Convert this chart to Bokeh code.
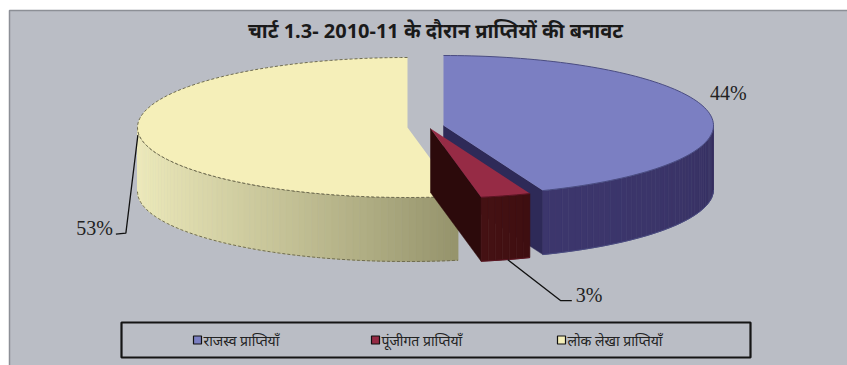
import numpy as np
from bokeh.plotting import figure
from bokeh.models import Range1d
from bokeh.embed import file_html
from bokeh.resources import INLINE
from bokeh.core.properties import value

# ---------------- data ----------------
title = "चार्ट 1.3- 2010-11 के दौरान प्राप्तियों की बनावट"
categories = ["राजस्व प्राप्तियाँ", "पूंजीगत प्राप्तियाँ", "लोक लेखा प्राप्तियाँ"]
shares = [44, 3, 53]
pct_labels = ["44%", "3%", "53%"]

# ---------------- styles ----------------
top_colors = ["#7b7fc2", "#962b45", "#f5efb9"]
side_from = [(60, 54, 108), (68, 17, 19), (238, 235, 188)]
side_to = [(55, 49, 98), (62, 14, 16), (150, 148, 108)]
radial_colors = ["#2e2a58", "#2c0a0b", "#8f8d68"]
edge_colors = ["#4a4c80", "#5a1522", "#6f6c50"]
legend_colors = ["#7b7fc2", "#962b45", "#f5efb9"]

W, H = 847, 365
BG = "#babdc5"
BASE = (425.0, 127.0)
explode = [(18, -2), (5, 1), (-18, 0)]
RX, RY, DEPTH = 270.0, 70.0, 64.0

p = figure(width=W, height=H, x_range=Range1d(0, W), y_range=Range1d(H, 0),
           output_backend="svg", toolbar_location=None, min_border=0)
p.axis.visible = False
p.grid.visible = False
p.outline_line_color = None
p.background_fill_color = "white"
p.border_fill_color = "white"

# chart area
p.quad(left=9, right=W + 5, top=10, bottom=H + 5, fill_color=BG,
       line_color="#8c8f96", line_width=1.5)


def rim(cx, cy, t):
    r = np.radians(t)
    return cx + RX * np.cos(r), cy - RY * np.sin(r)


def hexc(c):
    return "#%02x%02x%02x" % tuple(int(round(v)) for v in c)


# slice angle ranges (clockwise from 12 o'clock)
ranges = []
start = 90.0
for v in shares:
    end = start - v / 100.0 * 360.0
    ranges.append((end, start))  # lo, hi (CCW)
    start = end

geo = []
for i, (lo, hi) in enumerate(ranges):
    cx, cy = BASE[0] + explode[i][0], BASE[1] + explode[i][1]
    geo.append((cx, cy, lo, hi))

draw_order = [2, 0, 1]
for i in draw_order:
    cx, cy, lo, hi = geo[i]
    n = max(3, int(abs(hi - lo) / 1.5) + 1)
    ts = np.linspace(lo, hi, n)
    rxs, rys = rim(cx, cy, ts)

    # radial faces
    for t, ang in ((lo, lo - 90), (hi, hi + 90)):
        if np.sin(np.radians(ang)) < -1e-6:
            ex, ey = rim(cx, cy, t)
            p.patch([cx, ex, ex, cx], [cy, ey, ey + DEPTH, cy + DEPTH],
                    fill_color=radial_colors[i], line_color=radial_colors[i], line_width=0.5)

    # outer side strips
    vis = [k for k in range(n - 1) if np.sin(np.radians((ts[k] + ts[k + 1]) / 2)) < 0]
    if vis:
        tv = [(ts[k] + ts[k + 1]) / 2 for k in vis]
        tmin, tmax = min(tv), max(tv)
        xs_l, ys_l, cols = [], [], []
        for k in vis:
            tm = (ts[k] + ts[k + 1]) / 2
            f = 0 if tmax == tmin else (tm - tmin) / (tmax - tmin)
            f = f ** 1.6
            c = [side_from[i][j] + (side_to[i][j] - side_from[i][j]) * f for j in range(3)]
            x0, x1 = rxs[k], rxs[k + 1]
            y0, y1 = rys[k], rys[k + 1]
            xs_l.append([x0, x1, x1, x0])
            ys_l.append([y0, y1, y1 + DEPTH, y0 + DEPTH])
            cols.append(hexc(c))
        p.patches(xs_l, ys_l, fill_color=cols, line_color=cols, line_width=0.6)
        # side outline
        fx = [rxs[k] for k in vis] + [rxs[vis[-1] + 1]]
        fy = [rys[k] for k in vis] + [rys[vis[-1] + 1]]
        dash = "3 2" if i == 2 else "solid"
        p.line(fx, [y + DEPTH for y in fy], line_color=edge_colors[i], line_width=1, line_dash=dash)
        p.line(fx, fy, line_color=edge_colors[i], line_width=1, line_dash=dash)

    # top face
    px = [cx] + list(rxs)
    py = [cy] + list(rys)
    p.patch(px, py, fill_color=top_colors[i], line_color=None)
    dash = "3 2" if i == 2 else "solid"
    p.line(list(rxs), list(rys), line_color=edge_colors[i], line_width=1, line_dash=dash)

# ---------------- labels ----------------
lab_font = value("Liberation Serif")
# 44% (blue)
cxb, cyb, lob, hib = geo[0]
p.text(x=[cxb + RX * 1.055], y=[cyb - RY * 0.47], text=[pct_labels[0]],
       text_font=lab_font, text_font_size="20px", text_color="#222222",
       text_align="center", text_baseline="middle")

# 53% (yellow) with leader
cxy, cyy, loy, hiy = geo[2]
ax, ay = rim(cxy, cyy, 183)
lx = [ax, ax - 12, ax - 22]
ly = [ay + 4, ay + 102, ay + 103]
p.line(lx, ly, line_color="#111111", line_width=1.3)
p.text(x=[lx[-1] - 3], y=[ly[-1] - 6], text=[pct_labels[2]],
       text_font=lab_font, text_font_size="20px", text_color="#222222",
       text_align="right", text_baseline="middle")

# 3% (maroon) with leader
cxm, cym, lom, him = geo[1]
mx, my = rim(cxm, cym, (lom + him) / 2)
my += DEPTH
lx = [mx + 2, mx + 55, mx + 66]
ly = [my, my + 41, my + 41]
p.line(lx, ly, line_color="#111111", line_width=1.3)
p.text(x=[lx[-1] + 4], y=[ly[-1] - 6], text=[pct_labels[1]],
       text_font=lab_font, text_font_size="20px", text_color="#222222",
       text_align="left", text_baseline="middle")

# ---------------- title ----------------
p.text(x=[435], y=[30], text=[title], text_font=value("Noto Sans"),
       text_font_size="20px", text_font_style="bold", text_color="#1a1a1a",
       text_align="center", text_baseline="middle")

# ---------------- legend ----------------
p.quad(left=121, right=750, top=322, bottom=357, fill_color=None,
       line_color="#151515", line_width=2.2)
leg_x = [197, 375, 561]
for k in range(3):
    p.scatter(x=[leg_x[k]], y=[339.5], marker="square", size=8,
              fill_color=legend_colors[k], line_color="#111111", line_width=1.2)
    p.text(x=[leg_x[k] + 6], y=[339.5], text=[categories[k]], text_font=value("Noto Sans"),
           text_font_size="14px", text_color="#222222",
           text_align="left", text_baseline="middle")

open("out.html", "w").write(file_html(p, INLINE))
